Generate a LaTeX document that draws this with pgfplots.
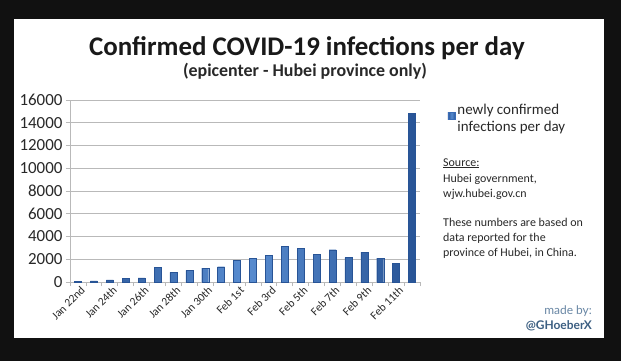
\documentclass[border=0pt]{standalone}
\usepackage{pgfplots}
\pgfplotsset{compat=1.18}
\usetikzlibrary{backgrounds}
\usepackage{fontspec}
\setmainfont{Carlito}
\newfontfamily\madefont{Lato}
\definecolor{barblue}{RGB}{58,108,182}
\definecolor{barlight}{RGB}{88,140,208}
\definecolor{bardark}{RGB}{40,84,150}
\definecolor{bgblack}{RGB}{17,17,17}
\definecolor{gridgray}{RGB}{185,185,185}
\definecolor{txtgray}{RGB}{40,40,40}
\definecolor{madeby}{RGB}{105,135,165}
\definecolor{madeby2}{RGB}{60,95,130}
\begin{document}
\begin{tikzpicture}[x=1bp,y=1bp]
\begin{axis}[
  scale only axis, width=350bp, height=182bp,
  xmin=-0.5, xmax=21.5, ymin=0, ymax=16000,
  ytick={0,2000,...,16000},
  yticklabel style={font=\fontsize{17}{20}\selectfont, text=txtgray},
  /pgf/number format/assume math mode=true,
  /pgf/number format/set thousands separator={},
  scaled y ticks=false,
  ymajorgrids, grid style={gridgray, line width=0.8pt},
  axis x line*=bottom, axis y line*=left,
  axis line style={gridgray, line width=0.8pt},
  xtick={0,2,...,20},
  xticklabels={Jan 22nd,Jan 24th,Jan 26th,Jan 28th,Jan 30th,Feb 1st,Feb 3rd,Feb 5th,Feb 7th,Feb 9th,Feb 11th},
  xticklabel style={font=\fontsize{11.5}{13}\selectfont, text=txtgray, rotate=45, anchor=north east, inner sep=1pt, xshift=3pt},
  major x tick style={draw=none},
  minor xtick={-0.5,0.5,...,21.5},
  minor tick length=4bp,
  minor x tick style={gridgray, line width=0.8pt},
  major tick length=4bp,
  tick align=outside,
  y tick style={gridgray, line width=0.8pt},
  ybar, bar width=7bp,
  clip=false,
  legend style={at={(1.07,1.0)}, anchor=north west, draw=none, fill=none,
    font=\fontsize{15}{17}\selectfont, cells={anchor=west, align=left, text=txtgray}},
  legend image code/.code={\fill[barblue] (0bp,-1bp) rectangle (7.5bp,6.5bp);},
]
\addplot[left color=bardark, right color=bardark, middle color=barlight, draw=bardark, line width=0.3pt] coordinates {
(0,70) (1,105) (2,180) (3,323) (4,371) (5,1291) (6,840) (7,1032) (8,1220) (9,1347)
(10,1921) (11,2103) (12,2345) (13,3156) (14,2987) (15,2447) (16,2841) (17,2147)
(18,2618) (19,2097) (20,1638) (21,14840)};
\addlegendentry{newly confirmed\\infections per day}
\coordinate (AO) at (rel axis cs:0,0);
\end{axis}
\begin{scope}[shift={(AO)}]
\begin{scope}[shift={(-70,-79)}]
\begin{scope}[on background layer]
\fill[bgblack] (0,0) rectangle (621,361);
\fill[white] (14,23) rectangle (604,342);
\end{scope}
\node[font=\bfseries\fontsize{27}{30}\selectfont, text=black!90] at (307,313) {Confirmed COVID-19 infections per day};
\node[font=\bfseries\fontsize{18}{21}\selectfont, text=txtgray] at (305,290) {(epicenter - Hubei province only)};
\begin{scope}[every node/.style={anchor=base west, inner sep=0pt, text=txtgray, font=\fontsize{12}{14}\selectfont}]
\node at (443,195) {\underline{Source:}};
\node at (443,179) {Hubei government,};
\node at (443,164) {wjw.hubei.gov.cn};
\node at (443,135) {These numbers are based on};
\node at (443,120) {data reported for the};
\node at (443,105) {province of Hubei, in China.};
\end{scope}
\node[anchor=base east, inner sep=0pt, text=madeby, font=\madefont\fontsize{12}{14}\selectfont] at (592,47) {made by:};
\node[anchor=base east, inner sep=0pt, text=madeby2, font=\madefont\bfseries\fontsize{12}{14}\selectfont] at (592,32) {@GHoeberX};
\pgfresetboundingbox
\path[use as bounding box] (0,0) rectangle (621,361);
\end{scope}
\end{scope}
\end{tikzpicture}
\end{document}
